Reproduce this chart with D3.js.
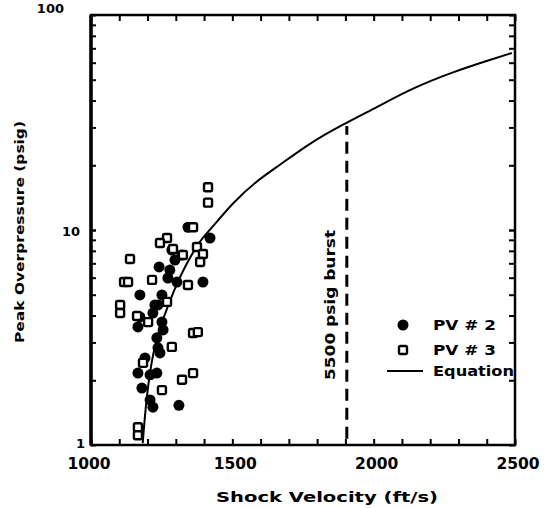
<!DOCTYPE html>
<html>
<head>
	<title>Peak Overpressure vs Shock Velocity</title>
	<script src="https://d3js.org/d3.v7.min.js"></script>
	<style type="text/css">
		body { margin: 0; background: #fff; }
		svg { display: block; }
		text { font-family: "DejaVu Sans", sans-serif; font-weight: bold; fill: #000; }
	</style>
</head>
<body>
<script type="text/javascript">

// tick labels
var xTicks = [1000, 1500, 2000, 2500];
var yTicks = [1, 10, 100];

// PV # 2 (filled circles)
var pv2Velocity = [1343, 1421, 1286, 1322, 1297, 1241, 1272, 1304, 1396, 1173,
	1251, 1237, 1219, 1173, 1166, 1251, 1255, 1233, 1237, 1191,
	1244, 1166, 1233, 1180, 1209, 1219, 1311, 1209, 1279, 1226];
var pv2Pressure = [10.3, 9.18, 8.07, 7.65, 7.25, 6.73, 5.98, 5.73, 5.73, 4.99,
	4.99, 4.48, 4.11, 3.94, 3.54, 3.73, 3.43, 3.15, 2.83, 2.54,
	2.68, 2.16, 2.16, 1.84, 1.62, 1.50, 1.53, 2.12, 6.51, 4.48];

// PV # 3 (open squares)
var pv3Velocity = [1414, 1414, 1361, 1269, 1244, 1290, 1325, 1375, 1396, 1386,
	1138, 1117, 1131, 1216, 1343, 1103, 1103, 1202, 1269, 1361,
	1378, 1286, 1184, 1251, 1322, 1361, 1166, 1166, 1163];
var pv3Pressure = [15.8, 13.4, 10.3, 9.18, 8.70, 8.16, 7.65, 8.34, 7.73, 7.10,
	7.33, 5.73, 5.73, 5.86, 5.55, 4.48, 4.11, 3.73, 4.63, 3.32,
	3.35, 2.86, 2.41, 1.80, 2.01, 2.16, 1.21, 1.11, 3.98];

// equation curve
var eqVelocity = [1183, 1195, 1219, 1257, 1294, 1331, 1386, 1421, 1502, 1580, 1669, 1775, 1888, 2012, 2139, 2280, 2411, 2489];
var eqPressure = [1.02, 1.62, 2.77, 3.94, 5.26, 6.73, 8.98, 10.0, 13.4, 16.7, 20.1, 25.4, 30.8, 37.3, 45.8, 54.3, 61.8, 66.6];

// burst line
var burstVelocity = 1905;
var burstRange = [1.07, 30.5];

var chart = {
	w: 545,
	h: 508,
	left: 91,
	right: 515,
	top: 15,
	bottom: 445
};

var svg = d3.select("body").append("svg")
	.attr("width", chart.w)
	.attr("height", chart.h);

var x = d3.scaleLinear().domain([1000, 2500]).range([chart.left, chart.right]);
var y = d3.scaleLog().domain([1, 100]).range([chart.bottom, chart.top]);

// minor ticks
var xMinor = d3.range(1000, 2501, 100);
var yMinor = [];
[1, 10].forEach(function(d){
	for (var k = 1; k <= 10; k++) yMinor.push(d * k);
});

function noDomain(g){ g.select(".domain").remove(); }

// bottom / top inward ticks
svg.append("g")
	.attr("transform", "translate(0," + chart.bottom + ")")
	.call(d3.axisTop(x).tickValues(xMinor).tickSize(6).tickFormat(""))
	.call(noDomain)
	.selectAll("line").attr("stroke-width", 2);
svg.append("g")
	.attr("transform", "translate(0," + chart.top + ")")
	.call(d3.axisBottom(x).tickValues(xMinor).tickSize(6).tickFormat(""))
	.call(noDomain)
	.selectAll("line").attr("stroke-width", 2);

// left / right inward ticks
svg.append("g")
	.attr("transform", "translate(" + chart.left + ",0)")
	.call(d3.axisRight(y).tickValues(yMinor).tickSize(5).tickFormat(""))
	.call(noDomain)
	.selectAll("line").attr("stroke-width", 2);
svg.append("g")
	.attr("transform", "translate(" + chart.right + ",0)")
	.call(d3.axisLeft(y).tickValues(yMinor).tickSize(6).tickFormat(""))
	.call(noDomain)
	.selectAll("line").attr("stroke-width", 2);

// frame
svg.append("rect")
	.attr("x", chart.left).attr("y", chart.top)
	.attr("width", chart.right - chart.left).attr("height", chart.bottom - chart.top)
	.attr("fill", "none").attr("stroke", "#000").attr("stroke-width", 2.5);
svg.append("line")
	.attr("x1", chart.left).attr("x2", chart.left).attr("y1", chart.top).attr("y2", chart.bottom)
	.attr("stroke", "#000").attr("stroke-width", 3.5);

// tick labels
svg.append("g").selectAll("text")
	.data(xTicks).enter().append("text")
	.attr("x", function(d){ return x(d) + (d === 1000 ? -2 : 3); })
	.attr("y", chart.bottom + 24)
	.attr("text-anchor", "middle")
	.attr("font-size", 15.5)
	.text(function(d){ return d; });

// the scanned labels drift a little leftwards going up
var yLabelShift = { 1: 0, 10: -5, 100: -21 };
svg.append("g").selectAll("text")
	.data(yTicks).enter().append("text")
	.attr("x", function(d){ return chart.left - 6 + yLabelShift[d]; })
	.attr("y", function(d){ return y(d) + (d === 100 ? -2 : (d === 1 ? 3 : 6)); })
	.attr("text-anchor", "end")
	.attr("font-size", 13)
	.text(function(d){ return d; });

// axis titles
svg.append("text")
	.attr("x", 327).attr("y", 502)
	.attr("text-anchor", "middle")
	.attr("font-size", 14)
	.attr("textLength", 222).attr("lengthAdjust", "spacingAndGlyphs")
	.text("Shock Velocity (ft/s)");

svg.append("text")
	.attr("transform", "translate(24,232) rotate(-90)")
	.attr("text-anchor", "middle")
	.attr("font-size", 13)
	.attr("textLength", 222).attr("lengthAdjust", "spacingAndGlyphs")
	.text("Peak Overpressure (psig)");

// burst line and label
svg.append("line")
	.attr("x1", x(burstVelocity)).attr("x2", x(burstVelocity))
	.attr("y1", y(burstRange[0])).attr("y2", y(burstRange[1]))
	.attr("stroke", "#000").attr("stroke-width", 3)
	.attr("stroke-dasharray", "12,7");

svg.append("text")
	.attr("transform", "translate(335,305) rotate(-90)")
	.attr("text-anchor", "middle")
	.attr("font-size", 14)
	.attr("textLength", 150).attr("lengthAdjust", "spacingAndGlyphs")
	.text("5500 psig burst");

// equation curve
var eq = eqVelocity.map(function(v, i){ return [v, eqPressure[i]]; });
svg.append("path")
	.datum(eq)
	.attr("fill", "none")
	.attr("stroke", "#000")
	.attr("stroke-width", 2)
	.attr("d", d3.line()
		.x(function(d){ return x(d[0]); })
		.y(function(d){ return y(d[1]); })
		.curve(d3.curveBasis));

// PV # 2 circles
svg.append("g").selectAll("circle")
	.data(pv2Velocity.map(function(v, i){ return [v, pv2Pressure[i]]; }))
	.enter().append("circle")
	.attr("cx", function(d){ return x(d[0]); })
	.attr("cy", function(d){ return y(d[1]); })
	.attr("r", 5.5)
	.attr("fill", "#000");

// PV # 3 squares
var s = 8;
svg.append("g").selectAll("rect")
	.data(pv3Velocity.map(function(v, i){ return [v, pv3Pressure[i]]; }))
	.enter().append("rect")
	.attr("x", function(d){ return x(d[0]) - s / 2; })
	.attr("y", function(d){ return y(d[1]) - s / 2; })
	.attr("width", s).attr("height", s)
	.attr("rx", 1.5)
	.attr("fill", "#fff")
	.attr("stroke", "#000")
	.attr("stroke-width", 2.4);

// legend
var lg = svg.append("g");
lg.append("circle").attr("cx", 403).attr("cy", 325).attr("r", 5.5).attr("fill", "#000");
lg.append("rect").attr("x", 399).attr("y", 346).attr("width", 8).attr("height", 8)
	.attr("rx", 1.5).attr("fill", "#fff").attr("stroke", "#000").attr("stroke-width", 2.4);
lg.append("line").attr("x1", 387).attr("x2", 423).attr("y1", 371).attr("y2", 371)
	.attr("stroke", "#000").attr("stroke-width", 2);

var legendText = ["PV # 2", "PV # 3", "Equation"];
var legendWidth = [63, 63, 81];
lg.selectAll("text")
	.data(legendText).enter().append("text")
	.attr("x", 433)
	.attr("y", function(d, i){ return [330, 355, 376][i]; })
	.attr("font-size", 14)
	.attr("textLength", function(d, i){ return legendWidth[i]; })
	.attr("lengthAdjust", "spacingAndGlyphs")
	.text(function(d){ return d; });

</script>
</body>
</html>
